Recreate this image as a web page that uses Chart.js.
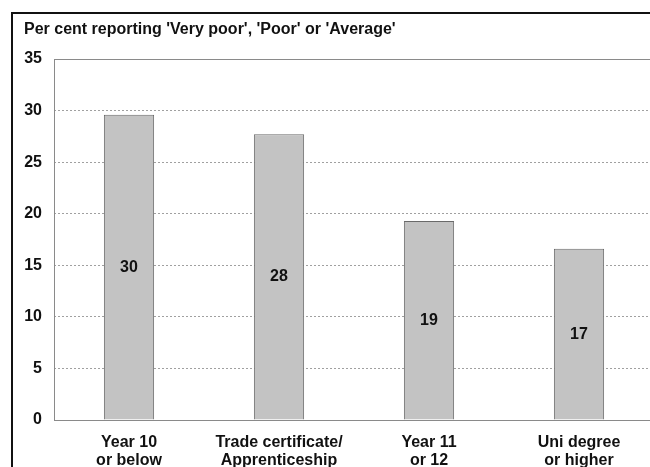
<!DOCTYPE html>
<html>
<head>
<meta charset="utf-8">
<script src="https://cdn.jsdelivr.net/npm/chart.js@4.4.1/dist/chart.umd.min.js"></script>
<style>
  html, body { margin: 0; padding: 0; background: #fff; overflow: hidden; }
  #wrap { position: relative; width: 650px; height: 467px; overflow: hidden; }
  #frame { position: absolute; left: 11px; top: 12px; width: 720px; height: 520px;
           border: 2px solid #111; box-sizing: border-box; pointer-events: none; }
  canvas { position: absolute; left: 0; top: 0; }
</style>
</head>
<body>
<div id="wrap">
  <canvas id="chart" width="700" height="500"></canvas>
  <div id="frame"></div>
</div>
<script>
// Self-rated health by highest level of education
const categories = [
  ['Year 10', 'or below'],
  ['Trade certificate/', 'Apprenticeship'],
  ['Year 11', 'or 12'],
  ['Uni degree', 'or higher']
];
const values = [29.6, 27.7, 19.3, 16.6];
const yTicks = [0, 5, 10, 15, 20, 25, 30, 35];
const titleText = "Per cent reporting 'Very poor', 'Poor' or 'Average'";

const FONT = '"Liberation Sans", Arial, sans-serif';

// Title, plot outline and in-bar value labels
const decorations = {
  id: 'decorations',
  beforeDatasetsDraw(chart) {
    const { ctx, chartArea: a } = chart;
    ctx.save();
    ctx.strokeStyle = '#8a8a8a';
    ctx.lineWidth = 1;
    ctx.strokeRect(Math.round(a.left) + 0.5, Math.round(a.top) + 0.5,
                   Math.round(a.right - a.left), Math.round(a.bottom - a.top));
    ctx.restore();
  },
  afterDatasetsDraw(chart) {
    const { ctx } = chart;
    const meta = chart.getDatasetMeta(0);
    ctx.save();
    ctx.font = 'bold 16px ' + FONT;
    ctx.fillStyle = '#111';
    ctx.textAlign = 'center';
    ctx.textBaseline = 'middle';
    meta.data.forEach((bar, i) => {
      const mid = (bar.y + bar.base) / 2;
      ctx.fillText(String(Math.round(values[i])), bar.x, mid);
    });
    ctx.textAlign = 'left';
    ctx.fillText(titleText, 24, 30);
    ctx.restore();
  }
};

new Chart(document.getElementById('chart'), {
  type: 'bar',
  data: {
    labels: categories,
    datasets: [{
      data: values,
      backgroundColor: '#c3c3c3',
      borderColor: '#6a6a6a',
      borderWidth: 1,
      barPercentage: 0.335,
      categoryPercentage: 1.0
    }]
  },
  options: {
    responsive: false,
    animation: false,
    events: [],
    layout: { padding: { left: 12, top: 59, right: 46, bottom: 30 } },
    plugins: { legend: { display: false }, tooltip: { enabled: false }, title: { display: false } },
    scales: {
      x: {
        grid: { display: false, drawTicks: false },
        border: { display: true, color: '#8a8a8a' },
        afterFit(scale) { scale.height = 50; },
        ticks: {
          color: '#111',
          font: { family: FONT, size: 16, weight: 'bold', lineHeight: 1.15 },
          padding: 13,
          maxRotation: 0,
          autoSkip: false
        }
      },
      y: {
        min: 0,
        max: 35,
        afterBuildTicks(scale) { scale.ticks = yTicks.map(v => ({ value: v })); },
        afterFit(scale) { scale.width = 42; },
        grid: { color: '#a0a0a0', lineWidth: 1, drawTicks: false },
        border: { display: false, dash: [2, 2] },
        ticks: {
          color: '#111',
          font: { family: FONT, size: 16, weight: 'bold' },
          padding: 12
        }
      }
    }
  },
  plugins: [decorations]
});
</script>
</body>
</html>
